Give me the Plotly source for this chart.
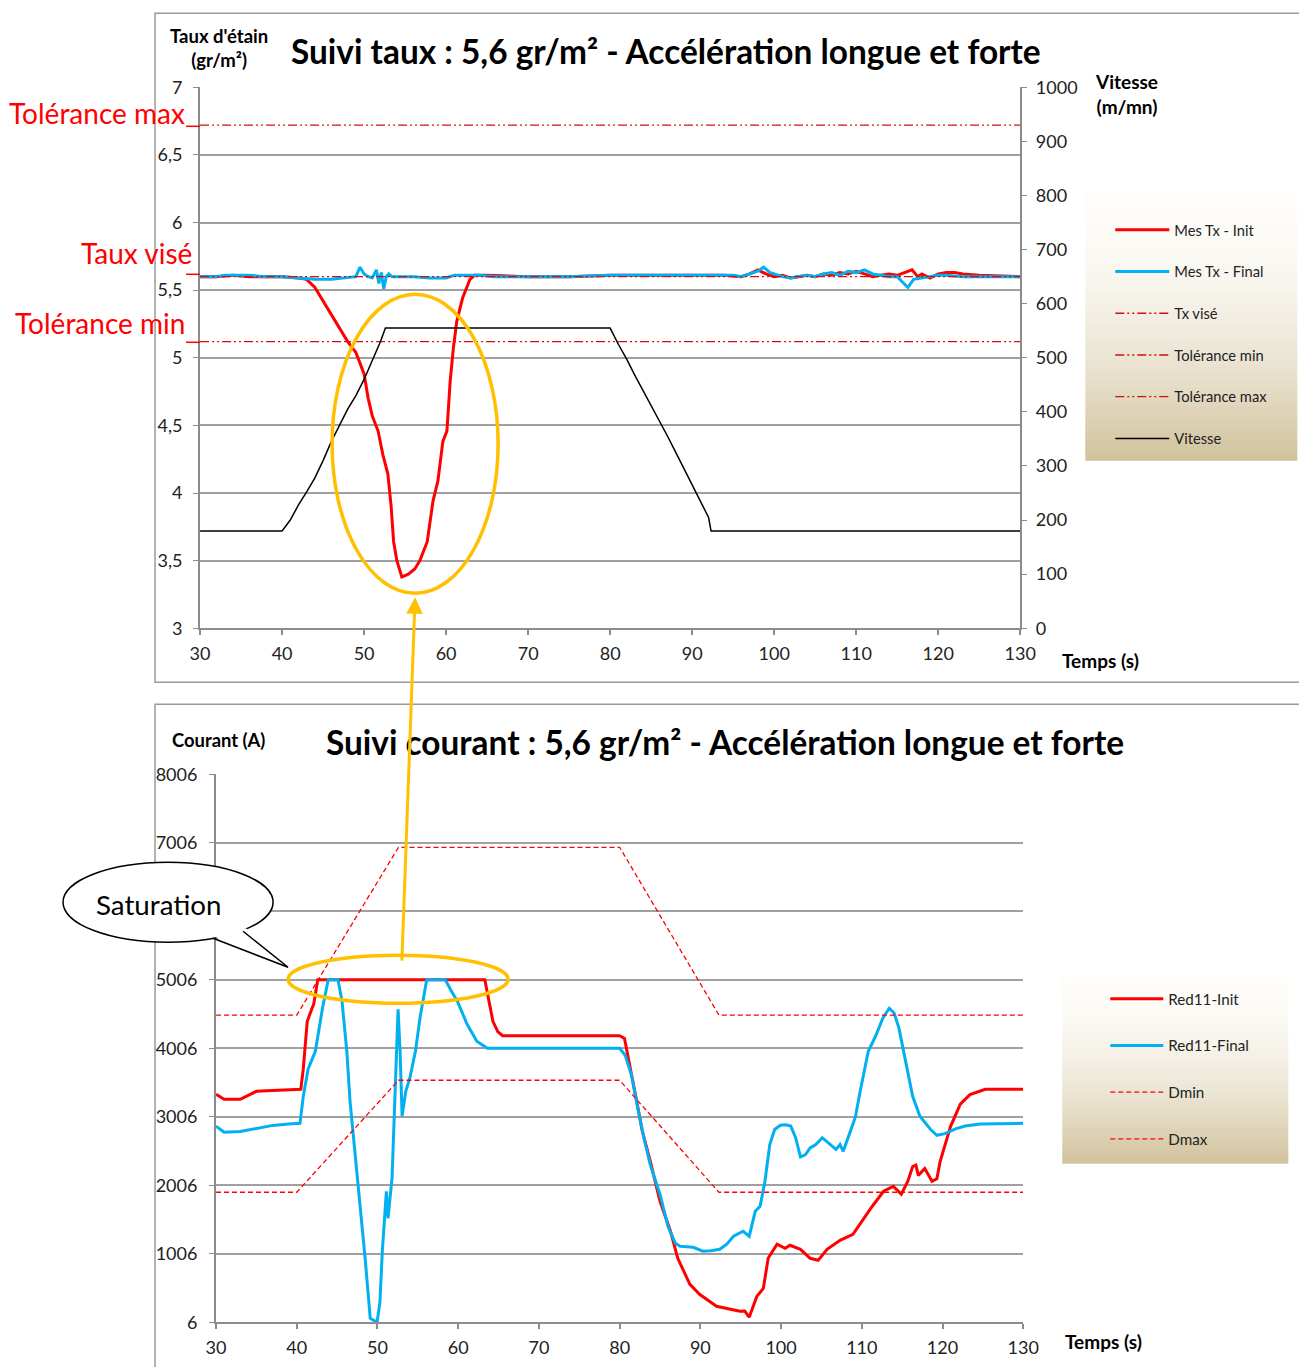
import plotly.graph_objects as go

# ---------------- DATA ----------------
# Top chart : tin coating rate (gr/m²) vs time (s)
t_tx_init = [30, 32, 34, 36, 38, 40, 42, 43, 44, 45, 46, 47, 48, 49, 50, 50.5, 51, 51.7, 52.3, 52.9,
             53.3, 53.6, 54, 54.6, 55.4, 56.2, 56.8, 57.7, 58.4, 59, 59.6, 60.1, 60.5, 60.9, 61.3, 62,
             62.9, 63.5, 65, 70, 75, 80, 85, 90, 94, 96, 97, 98, 99, 100, 101, 102, 103, 104, 105, 106,
             107, 108, 109, 110, 111, 112, 113, 114, 115, 116, 116.8, 117.5, 118, 119, 120, 121, 122,
             123, 125, 130]
tx_init = [5.60, 5.60, 5.61, 5.60, 5.60, 5.60, 5.59, 5.58, 5.52, 5.42, 5.33, 5.22, 5.12, 5.04, 4.88,
           4.70, 4.57, 4.46, 4.28, 4.14, 3.90, 3.64, 3.50, 3.38, 3.40, 3.44, 3.50, 3.64, 3.94, 4.09,
           4.38, 4.46, 4.83, 5.08, 5.27, 5.44, 5.58, 5.61, 5.61, 5.60, 5.60, 5.61, 5.61, 5.61, 5.61,
           5.60, 5.62, 5.65, 5.62, 5.60, 5.61, 5.59, 5.60, 5.61, 5.60, 5.62, 5.61, 5.63, 5.62, 5.64,
           5.62, 5.60, 5.61, 5.62, 5.61, 5.63, 5.65, 5.60, 5.62, 5.59, 5.62, 5.63, 5.63, 5.62, 5.61,
           5.60]

t_tx_final = [30, 32, 33, 36, 38, 40, 42, 44, 46, 48, 49, 49.5, 50, 50.5, 51, 51.5, 51.8, 52.1, 52.4,
              52.7, 53, 53.4, 54, 56, 58, 60, 61, 64, 66, 70, 75, 80, 85, 90, 95, 96, 97, 98, 98.7,
              99.5, 100, 101, 102, 103, 104, 105, 106, 107, 108, 109, 110, 111, 112, 113, 114, 115,
              115.8, 116.3, 117, 118, 119, 120, 121, 123, 125, 130]
tx_final = [5.60, 5.60, 5.61, 5.61, 5.60, 5.60, 5.59, 5.58, 5.58, 5.59, 5.60, 5.67, 5.62, 5.60, 5.59,
            5.65, 5.55, 5.63, 5.51, 5.60, 5.62, 5.60, 5.60, 5.60, 5.59, 5.59, 5.61, 5.61, 5.60, 5.60,
            5.60, 5.61, 5.61, 5.61, 5.61, 5.60, 5.62, 5.64, 5.67, 5.63, 5.62, 5.60, 5.59, 5.60, 5.61,
            5.60, 5.62, 5.63, 5.61, 5.64, 5.63, 5.65, 5.62, 5.61, 5.60, 5.60, 5.55, 5.52, 5.58, 5.59,
            5.60, 5.61, 5.61, 5.60, 5.60, 5.60]

t_ref = [30, 130]
tx_vise = [5.6, 5.6]
tol_min = [5.12, 5.12]
tol_max = [6.72, 6.72]

t_speed = [30, 40, 41, 42, 43, 44, 45, 46, 47, 48, 49, 50, 51, 52, 52.6, 80, 81, 82, 83, 84, 85, 86,
           87, 88, 89, 90, 91, 92, 92.3, 130]
speed = [180, 180, 200, 228, 252, 278, 310, 345, 375, 405, 430, 460, 495, 530, 555, 555, 525, 498,
         468, 440, 412, 385, 355, 325, 295, 268, 238, 205, 180, 180]

# Bottom chart : current (A) vs time (s)
t_red_init = [30, 31, 33, 35, 37, 39, 40.5, 40.8, 41.3, 41.8, 42.1, 42.6, 63.3, 63.8, 64.3, 64.9, 65.5,
              70, 80, 80.6, 81.2, 82, 82.8, 83.8, 85, 86.3, 87.2, 88.7, 89.9, 92, 94.9, 95.5, 96.05,
              97, 97.8, 98.4, 99.5, 100.5, 101.1, 102.4, 103.6, 104.6, 105.7, 107.3, 108.9, 110,
              111.3, 112.7, 113.9, 114.9, 115.7, 116.3, 116.7, 117, 117.8, 118.7, 119.3, 119.7, 121,
              122.2, 123.4, 125.3, 130]
red_init = [3334, 3262, 3262, 3378, 3390, 3400, 3407, 3700, 4400, 4560, 4650, 5006, 5006, 4700, 4400,
            4250, 4190, 4190, 4190, 4150, 3800, 3300, 2800, 2356, 1772, 1334, 940, 560, 415, 240,
            167, 170, 79, 386, 500, 940, 1145, 1085, 1130, 1070, 940, 911, 1070, 1203, 1290, 1480,
            1700, 1918, 1990, 1875, 2064, 2280, 2300, 2150, 2250, 2064, 2100, 2350, 2867, 3190, 3330,
            3407, 3407]

t_red_final = [30, 31, 33, 35, 37, 39, 40.4, 40.8, 41.4, 42.3, 43.2, 43.9, 45.1, 45.6, 46.2, 46.6,
               47.6, 48.5, 49.1, 49.95, 50.3, 50.6, 51.1, 51.3, 51.8, 52.2, 52.55, 52.8, 53.05, 53.5,
               54, 54.7, 55.3, 56.1, 58.4, 59.2, 59.9, 61.1, 62.3, 63.6, 80, 80.7, 81.5, 82.3, 83,
               83.8, 85, 86, 86.9, 87.5, 89.1, 90.3, 91.3, 92.4, 93.3, 94.1, 95.3, 96.05, 96.8, 97.4,
               98, 98.6, 99.2, 99.9, 100.6, 101.2, 101.8, 102.4, 103, 103.6, 104.3, 105.1, 105.6,
               106.2, 106.8, 107.3, 107.7, 108.6, 109.2, 109.8, 110.8, 111.7, 112.6, 113.4, 114,
               114.6, 115.4, 116.3, 117.2, 118.5, 119.3, 120.3, 121.6, 122.8, 124.7, 130]
red_final = [2867, 2780, 2790, 2840, 2880, 2900, 2910, 3300, 3700, 3962, 4600, 5006, 5006, 4700, 3962,
             3232, 2020, 900, 64, 6, 300, 1042, 1918, 1524, 2108, 3480, 4575, 3962, 3013, 3378, 3568,
             3962, 4473, 5006, 5006, 4830, 4692, 4356, 4108, 4006, 4006, 3900, 3600, 3100, 2700, 2300,
             1875, 1400, 1160, 1115, 1100, 1043, 1050, 1072, 1150, 1262, 1335, 1262, 1626, 1700, 2064,
             2600, 2820, 2882, 2890, 2870, 2700, 2420, 2450, 2550, 2600, 2700, 2650, 2580, 2530, 2600,
             2502, 2800, 3000, 3378, 3962, 4181, 4444, 4590, 4520, 4300, 3816, 3305, 3013, 2823, 2736,
             2760, 2830, 2870, 2900, 2910]

t_dlim = [30, 40, 52.6, 80, 92.3, 130]
dmin = [1904, 1904, 3539, 3539, 1904, 1904]
dmax = [4490, 4490, 6940, 6940, 4490, 4490]

top_y_ticks = [3, 3.5, 4, 4.5, 5, 5.5, 6, 6.5, 7]
top_y_text = ["3", "3,5", "4", "4,5", "5", "5,5", "6", "6,5", "7"]
x_ticks = [30, 40, 50, 60, 70, 80, 90, 100, 110, 120, 130]
speed_ticks = [0, 100, 200, 300, 400, 500, 600, 700, 800, 900, 1000]
cur_ticks = [6, 1006, 2006, 3006, 4006, 5006, 6006, 7006, 8006]
# the 6006 label is hidden behind the "Saturation" callout in the original
cur_text = ["6", "1006", "2006", "3006", "4006", "5006", "", "7006", "8006"]

# ---------------- LAYOUT HELPERS ----------------
# measured: a figure pixel p lands in the photo at 0.980*p + 18 (x) and 0.984*p + 18.7 (y)
FW, FH = 1316, 1372
SX, OX = 0.980, 18.0
SY, OY = 0.984, 18.7
FONT = "Lato"
def X(px):
    return ((px - OX) / SX) / FW
def Y(py):
    return 1 - ((py - OY) / SY) / FH

RED = "#ff0000"
BLUE = "#00b0f0"
DRED = "#d01010"
GRID = "#a0a0a0"
AXL = "#8c8c8c"

fig = go.Figure()

fig.add_trace(go.Scatter(x=t_tx_init, y=tx_init, name="Mes Tx - Init", mode="lines",
                         line=dict(color=RED, width=3), xaxis="x", yaxis="y",
                         legend="legend", legendgroup="a"))
fig.add_trace(go.Scatter(x=t_tx_final, y=tx_final, name="Mes Tx - Final", mode="lines",
                         line=dict(color=BLUE, width=3), xaxis="x", yaxis="y",
                         legend="legend", legendgroup="b"))
ddot = "9px,3px,2px,3px,2px,3px"
fig.add_trace(go.Scatter(x=t_ref, y=tx_vise, name="Tx visé", mode="lines",
                         line=dict(color=DRED, width=1.3, dash=ddot), xaxis="x", yaxis="y",
                         legend="legend", legendgroup="c"))
fig.add_trace(go.Scatter(x=t_ref, y=tol_min, name="Tolérance min", mode="lines",
                         line=dict(color=DRED, width=1.3, dash=ddot), xaxis="x", yaxis="y",
                         legend="legend", legendgroup="d"))
fig.add_trace(go.Scatter(x=t_ref, y=tol_max, name="Tolérance max", mode="lines",
                         line=dict(color=DRED, width=1.3, dash=ddot), xaxis="x", yaxis="y",
                         legend="legend", legendgroup="e"))
fig.add_trace(go.Scatter(x=t_speed, y=speed, name="Vitesse", mode="lines",
                         line=dict(color="#000000", width=1.5), xaxis="x", yaxis="y2",
                         legend="legend", legendgroup="f"))

fig.add_trace(go.Scatter(x=t_red_init, y=red_init, name="Red11-Init", mode="lines",
                         line=dict(color=RED, width=3), xaxis="x2", yaxis="y3",
                         legend="legend2", legendgroup="g"))
fig.add_trace(go.Scatter(x=t_red_final, y=red_final, name="Red11-Final", mode="lines",
                         line=dict(color=BLUE, width=3), xaxis="x2", yaxis="y3",
                         legend="legend2", legendgroup="h"))
fig.add_trace(go.Scatter(x=t_dlim, y=dmin, name="Dmin", mode="lines",
                         line=dict(color=RED, width=1.3, dash="5px,3px"),
                         xaxis="x2", yaxis="y3", legend="legend2", legendgroup="i"))
fig.add_trace(go.Scatter(x=t_dlim, y=dmax, name="Dmax", mode="lines",
                         line=dict(color=RED, width=1.3, dash="5px,3px"),
                         xaxis="x2", yaxis="y3", legend="legend2", legendgroup="j"))

tickfont = dict(family=FONT, size=18, color="#222222")
common_x = dict(range=[30, 130], tickvals=x_ticks, showgrid=False, zeroline=False,
                showline=True, linecolor=AXL, linewidth=2, ticks="outside", ticklen=5,
                tickcolor=AXL, tickwidth=1.5, tickfont=tickfont, ticklabelstandoff=3)

fig.update_layout(
    width=FW, height=FH, margin=dict(l=0, r=0, t=0, b=0),
    paper_bgcolor="white", plot_bgcolor="rgba(0,0,0,0)",
    xaxis=dict(domain=[X(200), X(1020)], anchor="y", **common_x),
    yaxis=dict(domain=[Y(627), Y(86)], range=[3, 7], tickvals=top_y_ticks, ticktext=top_y_text,
               showgrid=True, gridcolor=GRID, gridwidth=1.5, zeroline=False, showline=True,
               linecolor=AXL, linewidth=2, ticks="outside", ticklen=5, tickcolor=AXL,
               tickfont=tickfont, ticklabelstandoff=7),
    yaxis2=dict(overlaying="y", side="right", anchor="x", range=[0, 1000], tickvals=speed_ticks,
                showgrid=False, zeroline=False, showline=True, linecolor=AXL, linewidth=2,
                ticks="outside", ticklen=5, tickcolor=AXL, tickfont=tickfont, ticklabelstandoff=5),
    xaxis2=dict(domain=[X(216), X(1023)], anchor="y3", **common_x),
    yaxis3=dict(domain=[Y(1321), Y(773)], range=[6, 8006], tickvals=cur_ticks, ticktext=cur_text,
                showgrid=True, gridcolor=GRID, gridwidth=1.5, zeroline=False, showline=True,
                linecolor=AXL, linewidth=2, ticks="outside", ticklen=5, tickcolor=AXL,
                tickfont=tickfont, anchor="x2", ticklabelstandoff=8),
    legend=dict(x=X(1110), y=Y(212.5), xanchor="left", yanchor="top", bgcolor="rgba(0,0,0,0)",
                font=dict(family=FONT, size=14.7, color="#222222"), tracegroupgap=19.6,
                itemwidth=54, traceorder="grouped"),
    legend2=dict(x=X(1105), y=Y(981), xanchor="left", yanchor="top", bgcolor="rgba(0,0,0,0)",
                 font=dict(family=FONT, size=15.2, color="#222222"), tracegroupgap=24,
                 itemwidth=53, traceorder="grouped"),
    showlegend=True,
)

shapes = []
shapes.append(dict(type="rect", xref="paper", yref="paper", x0=X(155), x1=X(1330), y0=Y(681), y1=Y(12),
                   line=dict(color="#9a9a9a", width=1.5), fillcolor="rgba(0,0,0,0)", layer="below"))
shapes.append(dict(type="rect", xref="paper", yref="paper", x0=X(155), x1=X(1330), y0=Y(1400), y1=Y(703),
                   line=dict(color="#9a9a9a", width=1.5), fillcolor="rgba(0,0,0,0)", layer="below"))

def gradient(x0, x1, y0, y1, n=40):
    top = (254, 253, 250)
    bot = (209, 194, 157)
    h = (y1 - y0) / n
    for i in range(n):
        t = ((i + 0.5) / n) ** 1.8
        c = tuple(int(round(top[k] + (bot[k] - top[k]) * t)) for k in range(3))
        shapes.append(dict(type="rect", xref="paper", yref="paper", x0=X(x0), x1=X(x1),
                           y0=Y(y0 + (i + 1) * h + 0.5), y1=Y(y0 + i * h),
                           line=dict(width=0), fillcolor="rgb(%d,%d,%d)" % c, layer="below"))
gradient(1085, 1297, 190, 459)
gradient(1062, 1288, 975, 1162)

for py in (125, 273, 341):
    shapes.append(dict(type="line", xref="paper", yref="paper", x0=X(186), x1=X(200), y0=Y(py), y1=Y(py),
                       line=dict(color=RED, width=1.5)))

ORANGE = "#ffc000"
shapes.append(dict(type="circle", xref="paper", yref="paper", x0=X(332), x1=X(498), y0=Y(592), y1=Y(293),
                   line=dict(color=ORANGE, width=3.5), layer="above"))
shapes.append(dict(type="circle", xref="paper", yref="paper", x0=X(288), x1=X(508), y0=Y(1002), y1=Y(954),
                   line=dict(color=ORANGE, width=3.5), layer="above"))

shapes.append(dict(type="circle", xref="paper", yref="paper", x0=X(63), x1=X(273), y0=Y(941), y1=Y(861),
                   line=dict(color="#000000", width=1.5), fillcolor="white", layer="above"))
def P(px, py):
    return "%f %f" % (X(px), Y(py))
shapes.append(dict(type="path", xref="paper", yref="paper",
                   path="M %s L %s L %s Z" % (P(211, 934), P(288, 966), P(246, 927)),
                   line=dict(width=0), fillcolor="white", layer="above"))
shapes.append(dict(type="path", xref="paper", yref="paper",
                   path="M %s L %s L %s" % (P(213, 937), P(288, 966), P(243, 930)),
                   line=dict(color="#000000", width=1.5), layer="above"))
fig.update_layout(shapes=shapes)

ann = []
def text(px, py, s, size, color="#000000", bold=False, xanchor="center", yanchor="middle"):
    ann.append(dict(x=X(px), y=Y(py), xref="paper", yref="paper", text=("<b>%s</b>" % s) if bold else s,
                    showarrow=False, xanchor=xanchor, yanchor=yanchor,
                    font=dict(family=FONT, size=size, color=color)))

text(666, 50, "Suivi taux : 5,6 gr/m² - Accélération longue et forte", 33.4, bold=True)
text(725, 741, "Suivi courant : 5,6 gr/m² - Accélération longue et forte", 33.4, bold=True)
text(219, 47, "Taux d'étain<br>(gr/m²)", 18.5, bold=True)
text(1093, 93, "Vitesse<br>(m/mn)", 19, bold=True, xanchor="left")
text(1060, 659, "Temps (s)", 19, bold=True, xanchor="left")
text(1063, 1340, "Temps (s)", 19, bold=True, xanchor="left")
text(170, 739, "Courant (A)", 18.4, bold=True, xanchor="left")
text(97, 112, "Tolérance max", 28, color=RED)
text(136, 252, "Taux visé", 28, color=RED)
text(100, 322, "Tolérance min", 28, color=RED)
text(158, 903, "Saturation", 27.7, color="#000000")

ann.append(dict(x=X(415), y=Y(596), xref="paper", yref="paper", ax=-13 / SX, ay=359 / SY,
                axref="pixel", ayref="pixel", text="", showarrow=True, arrowhead=2, arrowsize=1.1,
                arrowwidth=3, arrowcolor=ORANGE))
fig.update_layout(annotations=ann)

fig.write_html("out.html")
